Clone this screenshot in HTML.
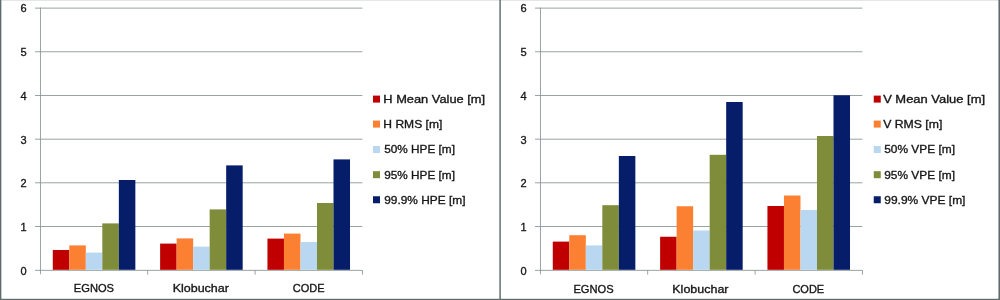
<!DOCTYPE html>
<html><head><meta charset="utf-8"><title>HPE / VPE comparison</title>
<style>
html,body{margin:0;padding:0;background:#fff;}
body{width:1000px;height:300px;overflow:hidden;font-family:"Liberation Sans",sans-serif;}
svg{display:block;filter:blur(0.3px);}
text{stroke-width:0.34px;}
</style></head><body>
<svg width="1000" height="300" viewBox="0 0 1000 300" font-family="'Liberation Sans', sans-serif" fill="#161616" stroke="#161616" stroke-width="0">
<rect x="0" y="0" width="1000" height="300" fill="#ffffff"/>
<rect x="35.00" y="269.88" width="327.40" height="0.84" fill="#879292"/>
<rect x="35.00" y="226.10" width="327.40" height="0.84" fill="#879292"/>
<rect x="35.00" y="182.41" width="327.40" height="0.84" fill="#879292"/>
<rect x="35.00" y="138.73" width="327.40" height="0.84" fill="#879292"/>
<rect x="35.00" y="95.05" width="327.40" height="0.84" fill="#879292"/>
<rect x="35.00" y="51.36" width="327.40" height="0.84" fill="#879292"/>
<rect x="35.00" y="7.68" width="327.40" height="0.84" fill="#879292"/>
<rect x="39.98" y="7.60" width="0.84" height="266.70" fill="#879292"/>
<rect x="147.31" y="270.20" width="0.84" height="4.4" fill="#879292"/>
<rect x="254.65" y="270.20" width="0.84" height="4.4" fill="#879292"/>
<rect x="361.98" y="270.20" width="0.84" height="4.4" fill="#879292"/>
<rect x="52.78" y="250.00" width="16.51" height="19.80" fill="#c00000"/>
<rect x="69.30" y="245.40" width="16.51" height="24.40" fill="#fb8032"/>
<rect x="85.81" y="252.60" width="16.51" height="17.20" fill="#b9d7f1"/>
<rect x="102.32" y="223.40" width="16.51" height="46.40" fill="#7f8c3a"/>
<rect x="118.84" y="180.00" width="16.51" height="89.80" fill="#061d6a"/>
<rect x="160.12" y="243.60" width="16.51" height="26.20" fill="#c00000"/>
<rect x="176.63" y="238.40" width="16.51" height="31.40" fill="#fb8032"/>
<rect x="193.14" y="246.60" width="16.51" height="23.20" fill="#b9d7f1"/>
<rect x="209.66" y="209.40" width="16.51" height="60.40" fill="#7f8c3a"/>
<rect x="226.17" y="165.40" width="16.51" height="104.40" fill="#061d6a"/>
<rect x="267.45" y="238.60" width="16.51" height="31.20" fill="#c00000"/>
<rect x="283.96" y="233.60" width="16.51" height="36.20" fill="#fb8032"/>
<rect x="300.48" y="242.00" width="16.51" height="27.80" fill="#b9d7f1"/>
<rect x="316.99" y="203.00" width="16.51" height="66.80" fill="#7f8c3a"/>
<rect x="333.50" y="159.40" width="16.51" height="110.40" fill="#061d6a"/>
<text x="20.55" y="274.55" font-size="11.7" textLength="6.15" lengthAdjust="spacingAndGlyphs">0</text>
<text x="20.55" y="230.87" font-size="11.7" textLength="6.15" lengthAdjust="spacingAndGlyphs">1</text>
<text x="20.55" y="187.18" font-size="11.7" textLength="6.15" lengthAdjust="spacingAndGlyphs">2</text>
<text x="20.55" y="143.50" font-size="11.7" textLength="6.15" lengthAdjust="spacingAndGlyphs">3</text>
<text x="20.55" y="99.82" font-size="11.7" textLength="6.15" lengthAdjust="spacingAndGlyphs">4</text>
<text x="20.55" y="56.13" font-size="11.7" textLength="6.15" lengthAdjust="spacingAndGlyphs">5</text>
<text x="20.55" y="12.45" font-size="11.7" textLength="6.15" lengthAdjust="spacingAndGlyphs">6</text>
<text x="73.82" y="292.3" font-size="11.5" textLength="40.2" lengthAdjust="spacingAndGlyphs">EGNOS</text>
<text x="172.70" y="292.3" font-size="11.5" textLength="56.2" lengthAdjust="spacingAndGlyphs">Klobuchar</text>
<text x="292.83" y="292.3" font-size="11.5" textLength="31.8" lengthAdjust="spacingAndGlyphs">CODE</text>
<rect x="373.00" y="95.60" width="7" height="7" fill="#c00000"/>
<text x="383.35" y="103.30" font-size="11.5" textLength="101.70" lengthAdjust="spacingAndGlyphs">H Mean Value [m]</text>
<rect x="373.00" y="120.60" width="7" height="7" fill="#fb8032"/>
<text x="383.35" y="128.30" font-size="11.5" textLength="59.00" lengthAdjust="spacingAndGlyphs">H RMS [m]</text>
<rect x="373.00" y="146.00" width="7" height="7" fill="#b9d7f1"/>
<text x="384.25" y="153.35" font-size="11.5" textLength="70.70" lengthAdjust="spacingAndGlyphs">50% HPE [m]</text>
<rect x="373.00" y="171.20" width="7" height="7" fill="#7f8c3a"/>
<text x="384.25" y="178.55" font-size="11.5" textLength="70.70" lengthAdjust="spacingAndGlyphs">95% HPE [m]</text>
<rect x="373.00" y="196.25" width="7" height="7" fill="#061d6a"/>
<text x="384.25" y="203.60" font-size="11.5" textLength="81.20" lengthAdjust="spacingAndGlyphs">99.9% HPE [m]</text>
<rect x="535.00" y="269.88" width="327.40" height="0.84" fill="#879292"/>
<rect x="535.00" y="226.10" width="327.40" height="0.84" fill="#879292"/>
<rect x="535.00" y="182.41" width="327.40" height="0.84" fill="#879292"/>
<rect x="535.00" y="138.73" width="327.40" height="0.84" fill="#879292"/>
<rect x="535.00" y="95.05" width="327.40" height="0.84" fill="#879292"/>
<rect x="535.00" y="51.36" width="327.40" height="0.84" fill="#879292"/>
<rect x="535.00" y="7.68" width="327.40" height="0.84" fill="#879292"/>
<rect x="539.98" y="7.60" width="0.84" height="266.70" fill="#879292"/>
<rect x="647.31" y="270.20" width="0.84" height="4.4" fill="#879292"/>
<rect x="754.65" y="270.20" width="0.84" height="4.4" fill="#879292"/>
<rect x="861.98" y="270.20" width="0.84" height="4.4" fill="#879292"/>
<rect x="552.78" y="241.60" width="16.51" height="28.20" fill="#c00000"/>
<rect x="569.30" y="235.20" width="16.51" height="34.60" fill="#fb8032"/>
<rect x="585.81" y="245.40" width="16.51" height="24.40" fill="#b9d7f1"/>
<rect x="602.32" y="205.20" width="16.51" height="64.60" fill="#7f8c3a"/>
<rect x="618.84" y="156.00" width="16.51" height="113.80" fill="#061d6a"/>
<rect x="660.12" y="236.75" width="16.51" height="33.05" fill="#c00000"/>
<rect x="676.63" y="206.25" width="16.51" height="63.55" fill="#fb8032"/>
<rect x="693.14" y="230.50" width="16.51" height="39.30" fill="#b9d7f1"/>
<rect x="709.66" y="154.80" width="16.51" height="115.00" fill="#7f8c3a"/>
<rect x="726.17" y="102.00" width="16.51" height="167.80" fill="#061d6a"/>
<rect x="767.45" y="206.00" width="16.51" height="63.80" fill="#c00000"/>
<rect x="783.96" y="195.50" width="16.51" height="74.30" fill="#fb8032"/>
<rect x="800.48" y="210.00" width="16.51" height="59.80" fill="#b9d7f1"/>
<rect x="816.99" y="136.00" width="16.51" height="133.80" fill="#7f8c3a"/>
<rect x="833.50" y="95.30" width="16.51" height="174.50" fill="#061d6a"/>
<text x="520.55" y="274.55" font-size="11.7" textLength="6.15" lengthAdjust="spacingAndGlyphs">0</text>
<text x="520.55" y="230.87" font-size="11.7" textLength="6.15" lengthAdjust="spacingAndGlyphs">1</text>
<text x="520.55" y="187.18" font-size="11.7" textLength="6.15" lengthAdjust="spacingAndGlyphs">2</text>
<text x="520.55" y="143.50" font-size="11.7" textLength="6.15" lengthAdjust="spacingAndGlyphs">3</text>
<text x="520.55" y="99.82" font-size="11.7" textLength="6.15" lengthAdjust="spacingAndGlyphs">4</text>
<text x="520.55" y="56.13" font-size="11.7" textLength="6.15" lengthAdjust="spacingAndGlyphs">5</text>
<text x="520.55" y="12.45" font-size="11.7" textLength="6.15" lengthAdjust="spacingAndGlyphs">6</text>
<text x="573.42" y="293.05" font-size="11.5" textLength="40.2" lengthAdjust="spacingAndGlyphs">EGNOS</text>
<text x="672.30" y="293.05" font-size="11.5" textLength="56.2" lengthAdjust="spacingAndGlyphs">Klobuchar</text>
<text x="792.43" y="293.05" font-size="11.5" textLength="31.8" lengthAdjust="spacingAndGlyphs">CODE</text>
<rect x="873.75" y="95.60" width="7" height="7" fill="#c00000"/>
<text x="883.15" y="103.30" font-size="11.5" textLength="101.90" lengthAdjust="spacingAndGlyphs">V Mean Value [m]</text>
<rect x="873.75" y="120.60" width="7" height="7" fill="#fb8032"/>
<text x="883.15" y="128.30" font-size="11.5" textLength="59.20" lengthAdjust="spacingAndGlyphs">V RMS [m]</text>
<rect x="873.75" y="146.00" width="7" height="7" fill="#b9d7f1"/>
<text x="884.25" y="153.35" font-size="11.5" textLength="70.70" lengthAdjust="spacingAndGlyphs">50% VPE [m]</text>
<rect x="873.75" y="171.20" width="7" height="7" fill="#7f8c3a"/>
<text x="884.25" y="178.55" font-size="11.5" textLength="70.70" lengthAdjust="spacingAndGlyphs">95% VPE [m]</text>
<rect x="873.75" y="196.25" width="7" height="7" fill="#061d6a"/>
<text x="884.25" y="203.60" font-size="11.5" textLength="81.20" lengthAdjust="spacingAndGlyphs">99.9% VPE [m]</text>
<!-- frame -->
<rect x="0" y="0" width="1000" height="1" fill="#e3e7e7"/>
<rect x="0" y="0" width="1.35" height="300" fill="#5e6b6b"/>
<rect x="499.35" y="0" width="1.45" height="300" fill="#5e6b6b"/>
<rect x="998.45" y="0" width="1.55" height="300" fill="#5e6b6b"/>
<rect x="0" y="298.8" width="1000" height="1.2" fill="#5e6b6b"/>
</svg>
</body></html>
